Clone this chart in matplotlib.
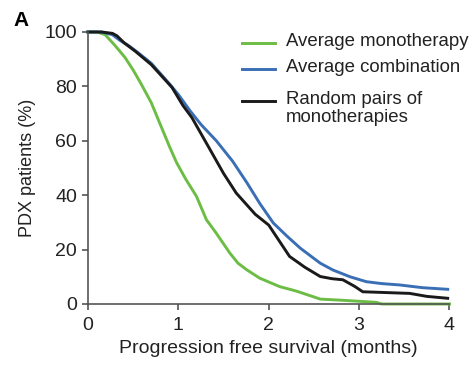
import numpy as np
import matplotlib.pyplot as plt
from matplotlib.lines import Line2D

plt.rcParams['font.family'] = ['Liberation Sans', 'DejaVu Sans']

# survival curves (months, % of PDX patients)
mono_t = [0, 0.10, 0.19, 0.30, 0.41, 0.50, 0.59, 0.70, 0.80, 0.90, 0.98, 1.08,
          1.20, 1.31, 1.42, 1.57, 1.66, 1.76, 1.90, 2.12, 2.30, 2.49, 2.57, 2.80, 3.00, 3.19, 3.25, 4.0]
mono_s = [100, 100, 99, 95, 90.6, 86, 80.8, 74, 66, 58, 52, 46,
          39.6, 31, 26, 18.7, 15, 12.5, 9.5, 6.4, 4.8, 2.7, 1.8, 1.4, 1.0, 0.6, 0, 0]

comb_t = [0, 0.15, 0.27, 0.35, 0.45, 0.55, 0.70, 0.90, 1.00, 1.13, 1.25, 1.42, 1.60,
          1.76, 1.90, 2.05, 2.20, 2.35, 2.57, 2.71, 2.90, 3.08, 3.25, 3.45, 3.70, 3.98]
comb_s = [100, 100, 99, 97, 95, 92.5, 88.5, 81, 77, 71, 66, 60, 52.5,
          44.5, 37, 29.8, 25, 20.5, 15, 12.5, 10, 8.2, 7.5, 7, 6, 5.4]

pair_t = [0, 0.15, 0.27, 0.32, 0.40, 0.52, 0.70, 0.93, 1.05, 1.15, 1.35, 1.50, 1.64,
          1.85, 2.00, 2.10, 2.23, 2.40, 2.57, 2.70, 2.82, 2.95, 3.04, 3.30, 3.56, 3.75, 3.98]
pair_s = [100, 100, 99.5, 98.6, 96, 93, 88, 79.6, 73, 68.5, 56.8, 48, 40.8,
          33, 29, 24, 17.5, 13.5, 10.1, 9.3, 8.9, 6.5, 4.5, 4.2, 3.9, 2.8, 2.1]

labels = ['Average monotherapy', 'Average combination', 'Random pairs of\nmonotherapies']
colors = ['#6cbd45', '#3a6fb5', '#1a1a1a']
xticks = [0, 1, 2, 3, 4]
yticks = [0, 20, 40, 60, 80, 100]

W, H = 477, 365
fig = plt.figure(figsize=(W / 100, H / 100), dpi=100)
ax = fig.add_axes([88 / W, 1 - 304 / H, (449.5 - 88) / W, (304 - 32) / H])

for t, s, c in zip([mono_t, comb_t, pair_t], [mono_s, comb_s, pair_s], colors):
    ax.plot(t, s, color=c, lw=2.1, clip_on=False)

ax.set_xlim(0, 4)
ax.set_ylim(0, 100)
ax.set_xticks(xticks)
ax.set_yticks(yticks)
for s in ['top', 'right']:
    ax.spines[s].set_visible(False)
for s in ['left', 'bottom']:
    ax.spines[s].set_color('#555555')
    ax.spines[s].set_linewidth(1.2)
ax.tick_params(direction='out', length=4, width=1.2, color='#555555',
               labelsize=14, labelcolor='#222222')
ax.tick_params(axis='x', pad=5)
ax.tick_params(axis='y', pad=4)

ax.set_xlabel('Progression free survival (months)', fontsize=14, color='#222222', labelpad=5)
ax.set_ylabel('PDX patients (%)', fontsize=13, color='#222222', labelpad=6)

# legend drawn by hand so the black handle sits on the first text line
rows = [43, 69, 101]
for lab, c, y in zip(labels, colors, rows):
    fig.add_artist(Line2D([242 / W, 275 / W], [1 - y / H, 1 - y / H], color=c, lw=2.1))
    fig.text(286 / W, 1 - (y - 10) / H, lab, fontsize=13.4, color='#222222',
             va='top', ha='left', linespacing=1.05)

fig.text(13 / W, 1 - 11 / H, 'A', fontsize=15, fontweight='bold', va='top', ha='left')

fig.savefig('out.png', dpi=100)
